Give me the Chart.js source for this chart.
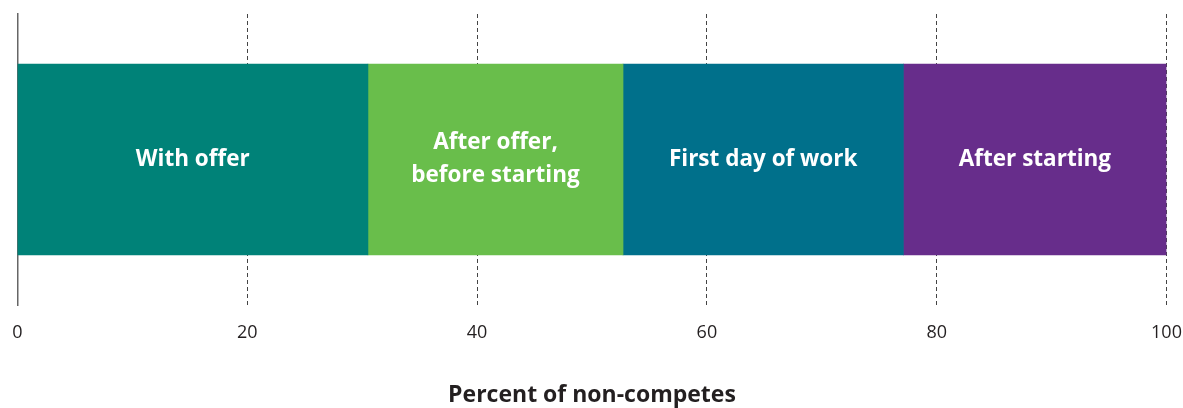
<!DOCTYPE html>
<html>
<head>
<meta charset="utf-8">
<script src="https://cdn.jsdelivr.net/npm/chart.js@4"></script>
<style>
html,body{margin:0;padding:0;background:#fff;}
#wrap{width:1183px;height:408px;position:relative;}
</style>
</head>
<body>
<div id="wrap"><canvas id="c" width="1183" height="408"></canvas></div>
<script>
const categories = ['Non-competes'];
const segmentNames = ['With offer', 'After offer, before starting', 'First day of work', 'After starting'];
const segmentLines = [['With offer'], ['After offer,', 'before starting'], ['First day of work'], ['After starting']];
const segmentValues = [30.5, 22.2, 24.4, 22.9];
const segmentColors = ['#008278', '#69BE4B', '#00708B', '#672D8B'];
const tickValues = [0, 20, 40, 60, 80, 100];
const axisTitle = 'Percent of non-competes';

const barLabelPlugin = {
  id: 'barLabels',
  afterDatasetsDraw(chart) {
    const ctx = chart.ctx;
    ctx.save();
    ctx.fillStyle = '#ffffff';
    ctx.font = 'bold 22.5px "Open Sans"';
    ctx.textAlign = 'center';
    ctx.textBaseline = 'middle';
    chart.data.datasets.forEach((ds, i) => {
      const el = chart.getDatasetMeta(i).data[0];
      const cx = (el.x + el.base) / 2;
      const lines = segmentLines[i];
      const lh = 33;
      const y0 = el.y - (lines.length - 1) * lh / 2;
      lines.forEach((t, k) => ctx.fillText(t, cx, y0 + k * lh));
    });
    ctx.restore();
  }
};

new Chart(document.getElementById('c'), {
  type: 'bar',
  data: {
    labels: categories,
    datasets: segmentNames.map((n, i) => ({
      label: n,
      data: [segmentValues[i]],
      backgroundColor: segmentColors[i],
      borderWidth: 0,
      barThickness: 191
    }))
  },
  options: {
    indexAxis: 'y',
    responsive: false,
    animation: false,
    layout: { padding: { left: 17.5, right: 16.5, top: 14, bottom: 0 } },
    plugins: { legend: { display: false }, tooltip: { enabled: false } },
    scales: {
      x: {
        stacked: true,
        min: 0,
        max: 100,
        afterBuildTicks(scale) { scale.ticks = tickValues.map(v => ({ value: v })); },
        afterFit(scale) { scale.height = 103; scale.paddingLeft = 0; scale.paddingRight = 0; },
        grid: {
          color: '#444',
          lineWidth: c => (c.tick && c.tick.value === 0) ? 0 : 1,
          drawTicks: false
        },
        border: { display: false, dash: [4, 3] },
        ticks: {
          padding: 17,
          color: '#231F20',
          font: { family: 'Open Sans', size: 18 },
          maxRotation: 0
        },
        title: {
          display: true,
          text: axisTitle,
          color: '#231F20',
          font: { family: 'Open Sans', size: 23, weight: 'bold' },
          padding: { top: 0, bottom: -1 }
        }
      },
      y: {
        stacked: true,
        grid: { display: false, drawTicks: false },
        ticks: { display: false },
        border: { display: true, color: '#666', width: 1.5 }
      }
    }
  },
  plugins: [barLabelPlugin]
});
</script>
</body>
</html>
